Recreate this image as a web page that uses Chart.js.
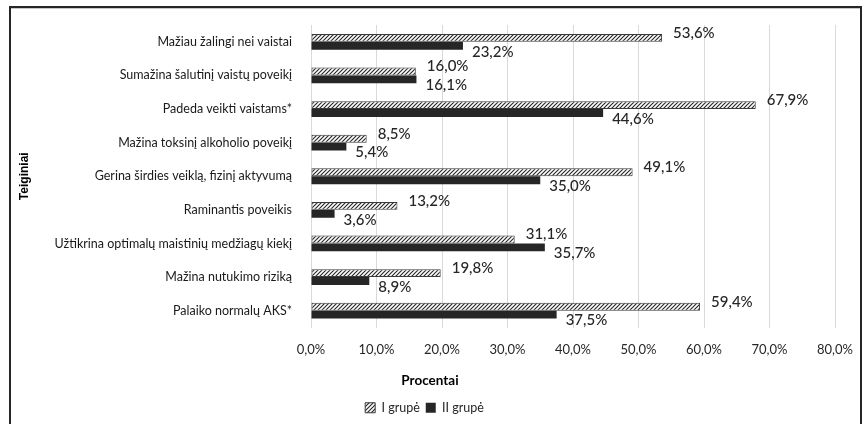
<!DOCTYPE html>
<html>
<head>
<meta charset="utf-8">
<script src="https://cdn.jsdelivr.net/npm/chart.js@4/dist/chart.umd.min.js"></script>
<style>
  html, body { margin: 0; padding: 0; background: #ffffff; }
  #wrap { width: 868px; height: 424px; position: relative; }
</style>
</head>
<body>
<div id="wrap"><canvas id="c" width="868" height="424"></canvas></div>
<script>
// Statements (top to bottom)
const categories = [
  'Mažiau žalingi nei vaistai',
  'Sumažina šalutinį vaistų poveikį',
  'Padeda veikti vaistams*',
  'Mažina toksinį alkoholio poveikį',
  'Gerina širdies veiklą, fizinį aktyvumą',
  'Raminantis poveikis',
  'Užtikrina optimalų maistinių medžiagų kiekį',
  'Mažina nutukimo riziką',
  'Palaiko normalų AKS*'
];
const seriesNames = ['I grupė', 'II grupė'];
const groupI  = [53.6, 16.0, 67.9, 8.5, 49.1, 13.2, 31.1, 19.8, 59.4];
const groupII = [23.2, 16.1, 44.6, 5.4, 35.0, 3.6, 35.7, 8.9, 37.5];
const xTickValues = [0, 10, 20, 30, 40, 50, 60, 70, 80];
const xTitle = 'Procentai';
const yTitle = 'Teiginiai';

const dark = '#262626';
const fmt = v => v.toFixed(1).replace('.', ',') + '%';

// diagonal hatch fill for the first group
function makeHatch() {
  const c = document.createElement('canvas');
  c.width = 4; c.height = 4;
  const g = c.getContext('2d');
  g.fillStyle = '#ffffff';
  g.fillRect(0, 0, 4, 4);
  g.strokeStyle = '#2a2a2a';
  g.lineWidth = 1.2;
  g.beginPath();
  g.moveTo(-1, 5); g.lineTo(5, -1);
  g.moveTo(-1, 1); g.lineTo(1, -1);
  g.moveTo(3, 5); g.lineTo(5, 3);
  g.stroke();
  return g.createPattern(c, 'repeat');
}
const hatch = makeHatch();

// frame around the chart plus free-standing axis titles
const framePlugin = {
  id: 'frame',
  beforeDraw(chart) {
    const ctx = chart.ctx;
    ctx.save();
    ctx.fillStyle = '#ffffff';
    ctx.fillRect(0, 0, chart.width, chart.height);
    ctx.fillStyle = dark;
    ctx.fillRect(9, 6, 853, 2);
    ctx.fillRect(9, 6, 2, chart.height);
    ctx.fillRect(860, 6, 2, chart.height);
    ctx.fillStyle = '#c8c8c8';
    ctx.fillRect(11, 8, 849, 1);
    ctx.restore();
  },
  afterDraw(chart) {
    const ctx = chart.ctx;
    const area = chart.chartArea;
    ctx.save();
    ctx.fillStyle = '#000000';
    ctx.textAlign = 'center';
    ctx.textBaseline = 'middle';
    ctx.font = 'bold 13.5px Lato';
    ctx.fillText(xTitle, 430, 381);
    ctx.translate(25, (area.top + area.bottom) / 2);
    ctx.rotate(-Math.PI / 2);
    ctx.font = 'bold 12px "Liberation Sans"';
    ctx.fillText(yTitle, 0, 0);
    ctx.restore();
  }
};

// value labels just past each bar end
const valueLabels = {
  id: 'valueLabels',
  afterDatasetsDraw(chart) {
    const ctx = chart.ctx;
    ctx.save();
    ctx.font = '500 15px Lato';
    ctx.fillStyle = dark;
    ctx.textAlign = 'left';
    ctx.textBaseline = 'middle';
    chart.data.datasets.forEach((ds, di) => {
      const meta = chart.getDatasetMeta(di);
      meta.data.forEach((el, i) => {
        const dx = di === 0 ? 11 : 9;
        const dy = di === 0 ? -5 : 6;
        ctx.fillText(fmt(ds.data[i]), el.x + dx, el.y + dy);
      });
    });
    ctx.restore();
  }
};

new Chart(document.getElementById('c'), {
  type: 'bar',
  data: {
    labels: categories,
    datasets: [
      {
        label: seriesNames[0],
        data: groupI,
        backgroundColor: hatch,
        borderColor: '#3a3a3a',
        borderWidth: 1,
        borderSkipped: false
      },
      {
        label: seriesNames[1],
        data: groupII,
        backgroundColor: dark,
        borderWidth: 0
      }
    ]
  },
  options: {
    indexAxis: 'y',
    responsive: false,
    animation: false,
    devicePixelRatio: 1,
    categoryPercentage: 0.47,
    barPercentage: 1.0,
    layout: { padding: { left: 11, right: 30, top: 25, bottom: 0 } },
    plugins: {
      legend: {
        position: 'bottom',
        labels: {
          boxWidth: 10,
          boxHeight: 10,
          padding: 6,
          color: dark,
          font: { family: 'Lato', size: 12.5 }
        }
      },
      tooltip: { enabled: false }
    },
    scales: {
      x: {
        min: 0,
        max: 80,
        afterBuildTicks(scale) {
          scale.ticks = xTickValues.map(v => ({ value: v }));
        },
        afterFit(scale) { scale.height = 68; },
        grid: { color: '#d9d9d9', lineWidth: 1, drawTicks: false },
        border: { display: false },
        ticks: {
          padding: 15,
          color: dark,
          font: { family: 'Lato', size: 13 },
          callback: v => fmt(v)
        }
      },
      y: {
        afterFit(scale) { scale.width = 300; },
        grid: { display: false },
        border: { display: false },
        ticks: {
          padding: 11,
          color: '#1a1a1a',
          font: { family: 'Lato', size: 12.5 }
        }
      }
    }
  },
  plugins: [framePlugin, valueLabels]
});
</script>
</body>
</html>
